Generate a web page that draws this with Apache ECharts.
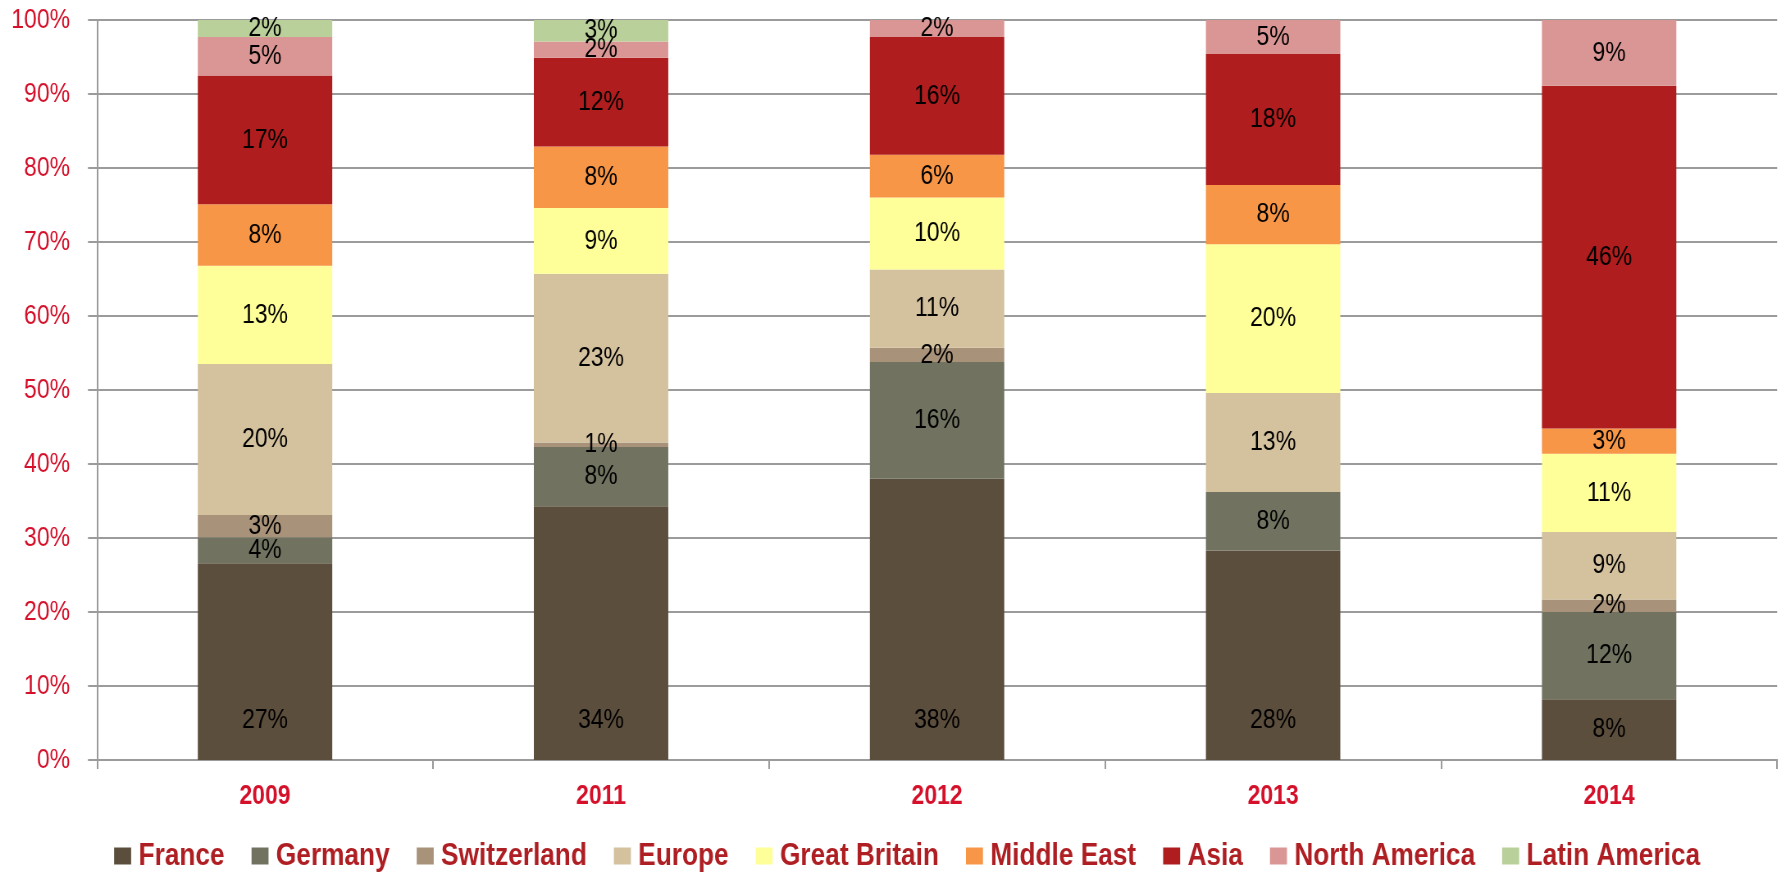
<!DOCTYPE html>
<html lang="en">
<head>
    <meta charset="UTF-8">
    <title>Breakdown by region</title>
    <script src="https://cdn.jsdelivr.net/npm/echarts@6/dist/echarts.min.js"></script>
    <style>
        *{
            margin: 0;
            padding: 0;
        }
        html, body{
            overflow: hidden;
        }
        /* no narrow font installed: draw wider and squeeze the whole chart,
           so Liberation Sans ends up with Arial Narrow proportions */
        .container{
            width: 2177px;
            height: 872px;
            transform: scaleX(0.82);
            transform-origin: 0 0;
        }
    </style>
</head>
<body>
<div class="container"></div>
<script>
    // values, % of each year
    let years = ['2009', '2011', '2012', '2013', '2014']
    let regions = ['France', 'Germany', 'Switzerland', 'Europe', 'Great Britain', 'Middle East', 'Asia', 'North America', 'Latin America']
    let france = [26.6, 34.3, 38.0, 28.3, 8.2]
    let germany = [3.5, 8.0, 15.8, 7.9, 11.8]
    let switzerland = [3.0, 0.6, 1.9, 0, 1.7]
    let europe = [20.4, 22.8, 10.6, 13.4, 9.1]
    let greatBritain = [13.3, 8.9, 9.7, 20.1, 10.6]
    let middleEast = [8.3, 8.3, 5.8, 8.0, 3.4]
    let asia = [17.4, 12.0, 15.9, 17.7, 46.3]
    let northAmerica = [5.2, 2.2, 2.3, 4.6, 8.9]
    let latinAmerica = [2.3, 2.9, 0, 0, 0]

    let values = [france, germany, switzerland, europe, greatBritain, middleEast, asia, northAmerica, latinAmerica]
    let colors = ['#5C4E3D', '#717360', '#A89279', '#D4C19E', '#FFFF99', '#F79646', '#AF1D1E', '#DA9694', '#BAD09A']

    let k = 0.82   // horizontal squeeze, see css
    let font = "'Liberation Sans', Arial, sans-serif"
    let red = '#D5102A'
    let gray = '#9B9B9B'

    let container = document.querySelector('.container')
    let echart = echarts.init(container)

    let series = regions.map((name, i) => {
        return {
            name: name,
            type: 'bar',
            stack: 'total',
            barWidth: '40%',
            itemStyle: {color: colors[i]},
            label: {
                show: true,
                position: 'inside',
                color: '#000',
                fontSize: 28,
                fontFamily: font,
                formatter: p => p.value > 0 ? Math.round(p.value) + '%' : ''
            },
            data: values[i].map(v => {
                // first series: Excel puts labels near the base
                if (i == 0 && v >= 12) {
                    return {value: v, label: {position: 'insideBottom', distance: 26}}
                }
                return v
            })
        }
    })

    let option = {
        animation: false,
        backgroundColor: '#fff',
        grid: {
            left: 97 / k,
            right: 8 / k,
            top: 20,
            bottom: 112
        },
        legend: {
            data: regions,
            left: 110 / k,
            top: 835,
            icon: 'rect',
            itemWidth: 17 / k,
            itemHeight: 17,
            itemGap: 27 / k,
            textStyle: {
                color: '#AE1E22',
                fontSize: 32,
                fontWeight: 'bold',
                fontFamily: font,
                padding: [0, 0, 0, 4]
            }
        },
        xAxis: {
            type: 'category',
            data: years,
            axisLine: {lineStyle: {color: gray, width: 2}},
            axisTick: {show: true, length: 9, lineStyle: {color: gray, width: 2}},
            axisLabel: {
                color: red,
                fontSize: 28,
                fontWeight: 'bold',
                fontFamily: font,
                margin: 22
            }
        },
        yAxis: {
            type: 'value',
            min: 0,
            max: 100,
            interval: 10,
            axisLine: {show: true, lineStyle: {color: gray, width: 2}},
            axisTick: {show: true, length: 9 / k, lineStyle: {color: gray, width: 2}},
            splitLine: {lineStyle: {color: gray, width: 2}},
            axisLabel: {
                formatter: '{value}%',
                color: red,
                fontSize: 28,
                fontFamily: font,
                margin: 27 / k
            }
        },
        series
    }

    echart.setOption(option)
</script>
</body>
</html>
